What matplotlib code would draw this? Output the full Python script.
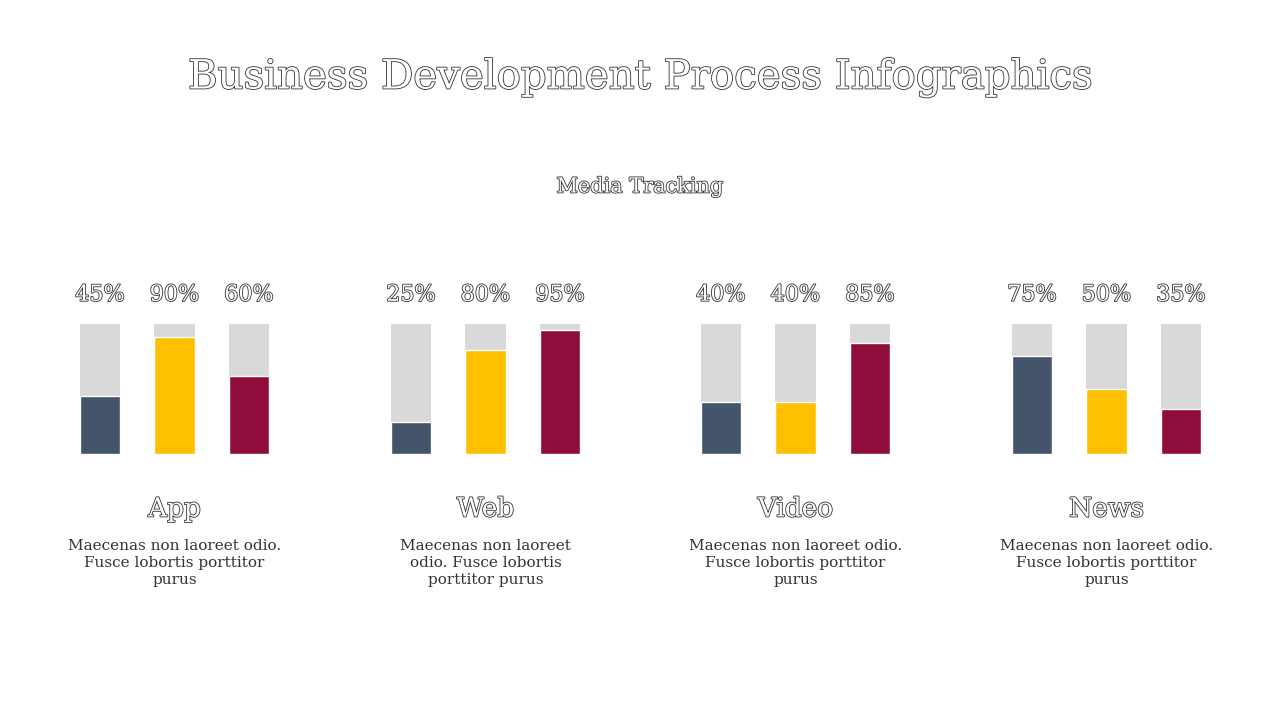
import matplotlib
matplotlib.use("Agg")
import matplotlib.pyplot as plt
import matplotlib.patheffects as pe

categories = ["App", "Web", "Video", "News"]
values = [[45, 90, 60], [25, 80, 95], [40, 40, 85], [75, 50, 35]]
desc = ["Maecenas non laoreet odio.\nFusce lobortis porttitor\npurus",
        "Maecenas non laoreet\nodio. Fusce lobortis\nporttitor purus",
        "Maecenas non laoreet odio.\nFusce lobortis porttitor\npurus",
        "Maecenas non laoreet odio.\nFusce lobortis porttitor\npurus"]
colors = ["#44546a", "#ffc000", "#8f0d3d"]

W, H = 1280, 720
fig = plt.figure(figsize=(12.8, 7.2), dpi=100)
fig.patch.set_facecolor("white")
font = "DejaVu Serif"
outline = [pe.Stroke(linewidth=1.2, foreground="#333333"), pe.Normal()]

fig.text(640/W, 1-78/H, "Business Development Process Infographics", ha="center", va="center",
         fontsize=29, family=font, color="white", path_effects=outline)
fig.text(640/W, 1-187/H, "Media Tracking", ha="center", va="center",
         fontsize=15, family=font, color="white", path_effects=outline)

lefts = [62, 373, 683, 994]
for g, cat in enumerate(categories):
    l = lefts[g]
    ax = fig.add_axes([l/W, 1-454/H, 225/W, 130/H])
    ax.set_xlim(-0.51, 2.51)
    ax.set_ylim(0, 100)
    ax.axis("off")
    xs = range(3)
    ax.bar(xs, [100]*3, width=0.55, color="#d9d9d9")
    ax.bar(xs, values[g], width=0.55, color=colors, edgecolor="white", linewidth=1)
    for x, v in zip(xs, values[g]):
        ax.text(x, 114, f"{v}%", ha="center", va="bottom", fontsize=16, family=font,
                color="white", path_effects=outline)
    cx = (l + 112.5)/W
    fig.text(cx, 1-509/H, cat, ha="center", va="center", fontsize=19, family=font,
             color="white", path_effects=outline)
    fig.text(cx, 1-563/H, desc[g], ha="center", va="center", fontsize=11, family=font,
             color="#333333", linespacing=1.25)

fig.savefig("out.png", dpi=100, facecolor="white")
